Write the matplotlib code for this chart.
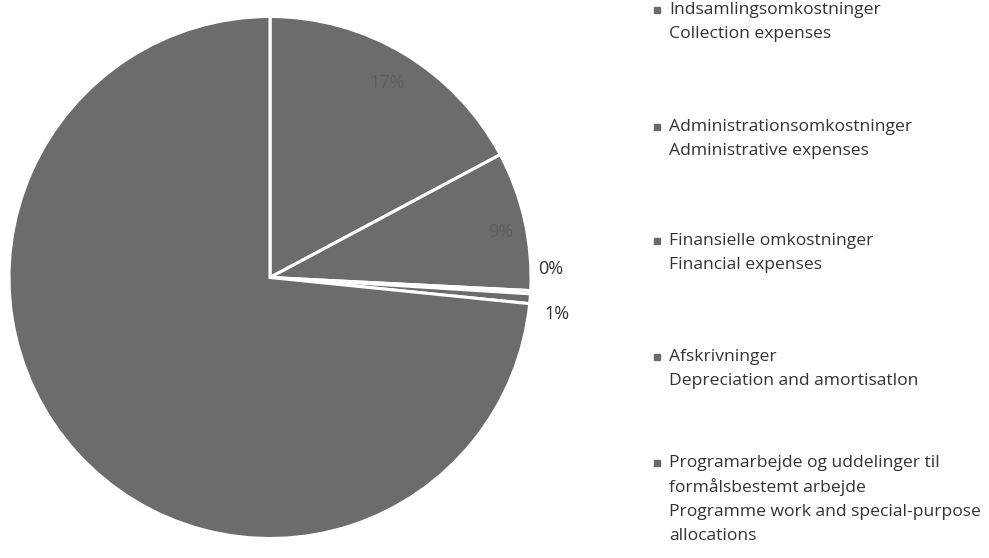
import numpy as np
import matplotlib
matplotlib.use("Agg")
import matplotlib.pyplot as plt
from matplotlib.patches import Rectangle

# ---- data ----
categories_da = ["Indsamlingsomkostninger", "Administrationsomkostninger",
                 "Finansielle omkostninger", "Afskrivninger",
                 "Programarbejde og uddelinger til\nformålsbestemt arbejde"]
categories_en = ["Collection expenses", "Administrative expenses",
                 "Financial expenses", "Depreciation and amortisatlon",
                 "Programme work and special-purpose\nallocations"]
shares = [17.2, 8.6, 0.2, 0.6, 73.4]
pct_labels = ["17%", "9%", "0%", "1%", ""]

W, H = 989, 558
fig = plt.figure(figsize=(W / 100, H / 100), dpi=100)
fig.patch.set_facecolor("white")
font = ["Open Sans", "DejaVu Sans"]

# pie axes: centre (270, 277.5) px from top, radius 261 px
cx, cy, r = 270, 277.5, 261
ax = fig.add_axes([(cx - r) / W, (H - cy - r) / H, 2 * r / W, 2 * r / H])
gray = "#6c6c6c"
wedges, _ = ax.pie(shares, startangle=90, counterclock=False, radius=1,
                   colors=[gray] * len(shares),
                   wedgeprops=dict(edgecolor="white", linewidth=2.2))
ax.set_xlim(-1, 1)
ax.set_ylim(-1, 1)
ax.set_aspect("equal")
ax.axis("off")

# percentage labels
label_style = [  # (radius, angle offset deg, color)
    (0.87, 0.0, "#5e5e5e"),
    (0.90, -1.5, "#5e5e5e"),
    (1.075, 5.0, "#333333"),
    (1.11, -2.5, "#333333"),
]
for w, lab, (rr, off, col) in zip(wedges, pct_labels, label_style):
    ang = np.deg2rad((w.theta1 + w.theta2) / 2 + off)
    ax.text(rr * np.cos(ang), rr * np.sin(ang), lab, ha="center", va="center",
            fontsize=13, color=col, family=font)

# legend-like text block
text_x = 669
marker_x = 657
y_first = [10, 127, 241, 357, 463]
line_h = 24.3
for da, en, y0 in zip(categories_da, categories_en, y_first):
    lines = da.split("\n") + en.split("\n")
    for i, ln in enumerate(lines):
        fig.text(text_x / W, 1 - (y0 + i * line_h) / H, ln, ha="left",
                 va="center", fontsize=12.6, color="#333333", family=font)
    fig.add_artist(Rectangle(((marker_x - 3) / W, 1 - (y0 + 3) / H), 6 / W, 6 / H,
                             transform=fig.transFigure, color="#6a6a6a"))

fig.savefig("out.png", dpi=100, facecolor="white")
